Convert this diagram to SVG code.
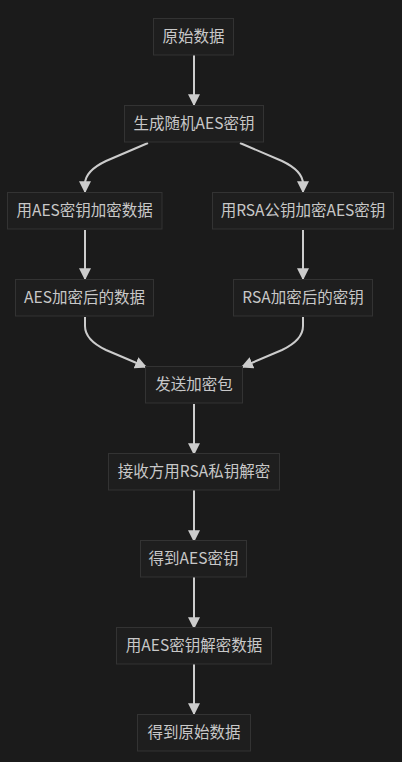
<svg xmlns="http://www.w3.org/2000/svg" width="402" height="762" viewBox="0 0 402 762">
<defs>
<style>
.bg{fill:#1b1b1b}
.node rect{fill:#1e1e1e;stroke:#333333;stroke-width:1}
.node text{fill:#c8c8c8;font-family:"Noto Sans CJK SC","Noto Sans",sans-serif;font-size:15.5px;text-anchor:middle;dominant-baseline:central}
.edges path{fill:none;stroke:#cccccc;stroke-width:2;marker-end:url(#arrow)}
</style>
<marker id="arrow" viewBox="0 0 10 10" refX="9" refY="5" markerWidth="12" markerHeight="12" markerUnits="userSpaceOnUse" orient="auto">
<path d="M0,0 L10,5 L0,10 z" fill="#cccccc"/>
</marker>
</defs>
<rect class="bg" x="0" y="0" width="402" height="762"/>
<g class="edges">
<path d="M194,55 L194,105"/>
<path d="M148,143 L106,161 Q85,171 85,184 L85,192"/>
<path d="M240,143 L282,161 Q303,171 303,184 L303,192"/>
<path d="M85,230 L85,279"/>
<path d="M303,230 L303,279"/>
<path d="M85,317 L85,326 Q85,340 106,350 L146,367"/>
<path d="M303,317 L303,326 Q303,340 282,350 L242,367"/>
<path d="M194,404 L194,454"/>
<path d="M194,490 L194,541"/>
<path d="M194,577 L194,628"/>
<path d="M194,664 L194,714"/>
</g>
<g id="n1" class="node"><rect x="153.5" y="18.5" width="80" height="36.5"/><text x="193.5" y="35.3">原始数据</text></g>
<g id="n2" class="node"><rect x="124.5" y="105.5" width="139" height="36.5"/><text x="194" y="122.3">生成随机AES密钥</text></g>
<g id="n3" class="node"><rect x="7.5" y="192.5" width="154.5" height="36.5"/><text x="84.7" y="209.3">用AES密钥加密数据</text></g>
<g id="n4" class="node"><rect x="212.5" y="192.5" width="181" height="36.5"/><text x="303" y="209.3">用RSA公钥加密AES密钥</text></g>
<g id="n5" class="node"><rect x="15.5" y="279.5" width="138" height="36.5"/><text x="84.5" y="296.3">AES加密后的数据</text></g>
<g id="n6" class="node"><rect x="233.5" y="279.5" width="139" height="36.5"/><text x="303" y="296.3">RSA加密后的密钥</text></g>
<g id="n7" class="node"><rect x="145.5" y="366.5" width="97" height="36.5"/><text x="194" y="383.3">发送加密包</text></g>
<g id="n8" class="node"><rect x="108.5" y="453.5" width="171" height="36.5"/><text x="194" y="470.3">接收方用RSA私钥解密</text></g>
<g id="n9" class="node"><rect x="140.5" y="540.5" width="106" height="36.5"/><text x="193.5" y="557.3">得到AES密钥</text></g>
<g id="n10" class="node"><rect x="116.5" y="627.5" width="155" height="36.5"/><text x="194" y="644.3">用AES密钥解密数据</text></g>
<g id="n11" class="node"><rect x="137.5" y="714.5" width="113" height="36.5"/><text x="194" y="731.3">得到原始数据</text></g>
</svg>
